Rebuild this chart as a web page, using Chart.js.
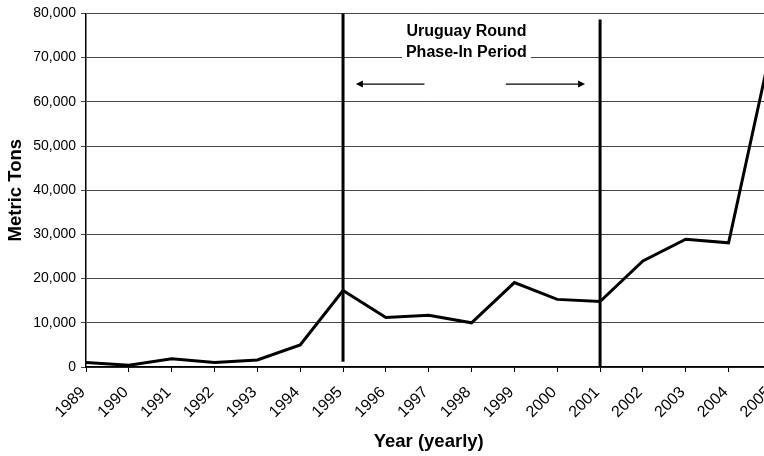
<!DOCTYPE html>
<html>
<head>
<meta charset="utf-8">
<style>
  html, body { margin: 0; padding: 0; background: #fff; }
  #wrap { width: 764px; height: 456px; overflow: hidden; position: relative; }
  canvas { display: block; }
</style>
<script src="https://cdn.jsdelivr.net/npm/chart.js@4/dist/chart.umd.min.js"></script>
</head>
<body>
<div id="wrap"><canvas id="chart" width="796" height="456"></canvas></div>
<script>
'use strict';

// Data
const years = ['1989','1990','1991','1992','1993','1994','1995','1996','1997','1998','1999','2000','2001','2002','2003','2004','2005'];
const metricTons = [1000, 400, 1850, 1000, 1600, 5000, 17300, 11200, 11700, 10000, 19100, 15300, 14800, 24000, 28900, 28100, 72500];
const yTicks = [0, 10000, 20000, 30000, 40000, 50000, 60000, 70000, 80000];

// Uruguay Round phase-in markers
const phaseYears = ['1995', '2001'];
const phaseLineRanges = [[1200, 80000], [0, 78600]];
const phaseLabel = ['Uruguay Round', 'Phase-In Period'];

const FONT = '"Liberation Sans", Arial, sans-serif';

// Draws the two vertical period lines, the label and the arrows
const phasePlugin = {
  id: 'phase',
  afterDatasetsDraw(chart) {
    const { ctx, scales: { x, y } } = chart;
    const i0 = years.indexOf(phaseYears[0]);
    const i1 = years.indexOf(phaseYears[1]);
    const xa = x.getPixelForValue(i0);
    const xb = x.getPixelForValue(i1);
    const step = x.getPixelForValue(1) - x.getPixelForValue(0);
    ctx.save();

    // label with white box behind it
    ctx.font = 'bold 16px ' + FONT;
    ctx.textAlign = 'center';
    ctx.textBaseline = 'middle';
    const cx = x.getPixelForValue(i0 + 2.88);
    const w = Math.max(...phaseLabel.map(t => ctx.measureText(t).width)) + 8;
    const ty1 = y.getPixelForValue(75800);
    const ty2 = y.getPixelForValue(71100);
    ctx.fillStyle = '#fff';
    ctx.fillRect(cx - w / 2, ty1 - 10, w, ty2 - ty1 + 20);
    ctx.fillStyle = '#000';
    ctx.fillText(phaseLabel[0], cx, ty1);
    ctx.fillText(phaseLabel[1], cx, ty2);

    // arrows
    const ay = y.getPixelForValue(64000);
    function arrow(fromX, toX) {
      const dir = Math.sign(toX - fromX);
      ctx.strokeStyle = '#000';
      ctx.lineWidth = 1.3;
      ctx.beginPath();
      ctx.moveTo(fromX, ay);
      ctx.lineTo(toX - dir * 5, ay);
      ctx.stroke();
      ctx.beginPath();
      ctx.moveTo(toX, ay);
      ctx.lineTo(toX - dir * 7, ay - 3.5);
      ctx.lineTo(toX - dir * 7, ay + 3.5);
      ctx.closePath();
      ctx.fill();
    }
    arrow(xa + step * 1.9, xa + step * 0.3);
    arrow(xa + step * 3.8, xa + step * 5.65);

    // vertical lines
    ctx.strokeStyle = '#000';
    ctx.lineWidth = 3;
    [xa, xb].forEach((px, k) => {
      ctx.beginPath();
      ctx.moveTo(px, y.getPixelForValue(phaseLineRanges[k][0]));
      ctx.lineTo(px, y.getPixelForValue(phaseLineRanges[k][1]));
      ctx.stroke();
    });
    ctx.restore();
  }
};

new Chart(document.getElementById('chart'), {
  type: 'line',
  data: {
    labels: years,
    datasets: [{
      data: metricTons,
      borderColor: '#000',
      borderWidth: 3,
      pointRadius: 0,
      tension: 0,
      fill: false
    }]
  },
  options: {
    responsive: false,
    animation: false,
    events: [],
    layout: { padding: { top: 10, right: 20, left: 0, bottom: 0 } },
    plugins: { legend: { display: false }, tooltip: { enabled: false } },
    scales: {
      x: {
        grid: { drawOnChartArea: false, drawTicks: true, tickLength: 5, color: '#000' },
        border: { display: true, color: '#000', width: 1.5 },
        ticks: {
          autoSkip: false, minRotation: 45, maxRotation: 45, padding: 11, labelOffset: -3,
          color: '#000', font: { family: FONT, size: 16 }
        },
        title: {
          display: true, text: 'Year (yearly)', color: '#000',
          font: { family: FONT, size: 18.5, weight: 'bold' }, padding: { top: 0, bottom: 3 }
        },
        afterFit(scale) { scale.height = 89; }
      },
      y: {
        min: 0, max: 80000,
        afterBuildTicks(scale) { scale.ticks = yTicks.map(v => ({ value: v })); },
        grid: { color: 'rgba(0,0,0,0.72)', lineWidth: 1, tickLength: 5 },
        border: { display: true, color: '#000', width: 1.5 },
        ticks: {
          padding: 5, color: '#000', font: { family: FONT, size: 14 },
          callback: v => v.toLocaleString('en-US')
        },
        title: {
          display: true, text: 'Metric Tons', color: '#000',
          font: { family: FONT, size: 18.5, weight: 'bold' }, padding: { top: 5, bottom: 0 }
        },
        afterFit(scale) { scale.width = 86; }
      }
    }
  },
  plugins: [phasePlugin]
});
</script>
</body>
</html>
